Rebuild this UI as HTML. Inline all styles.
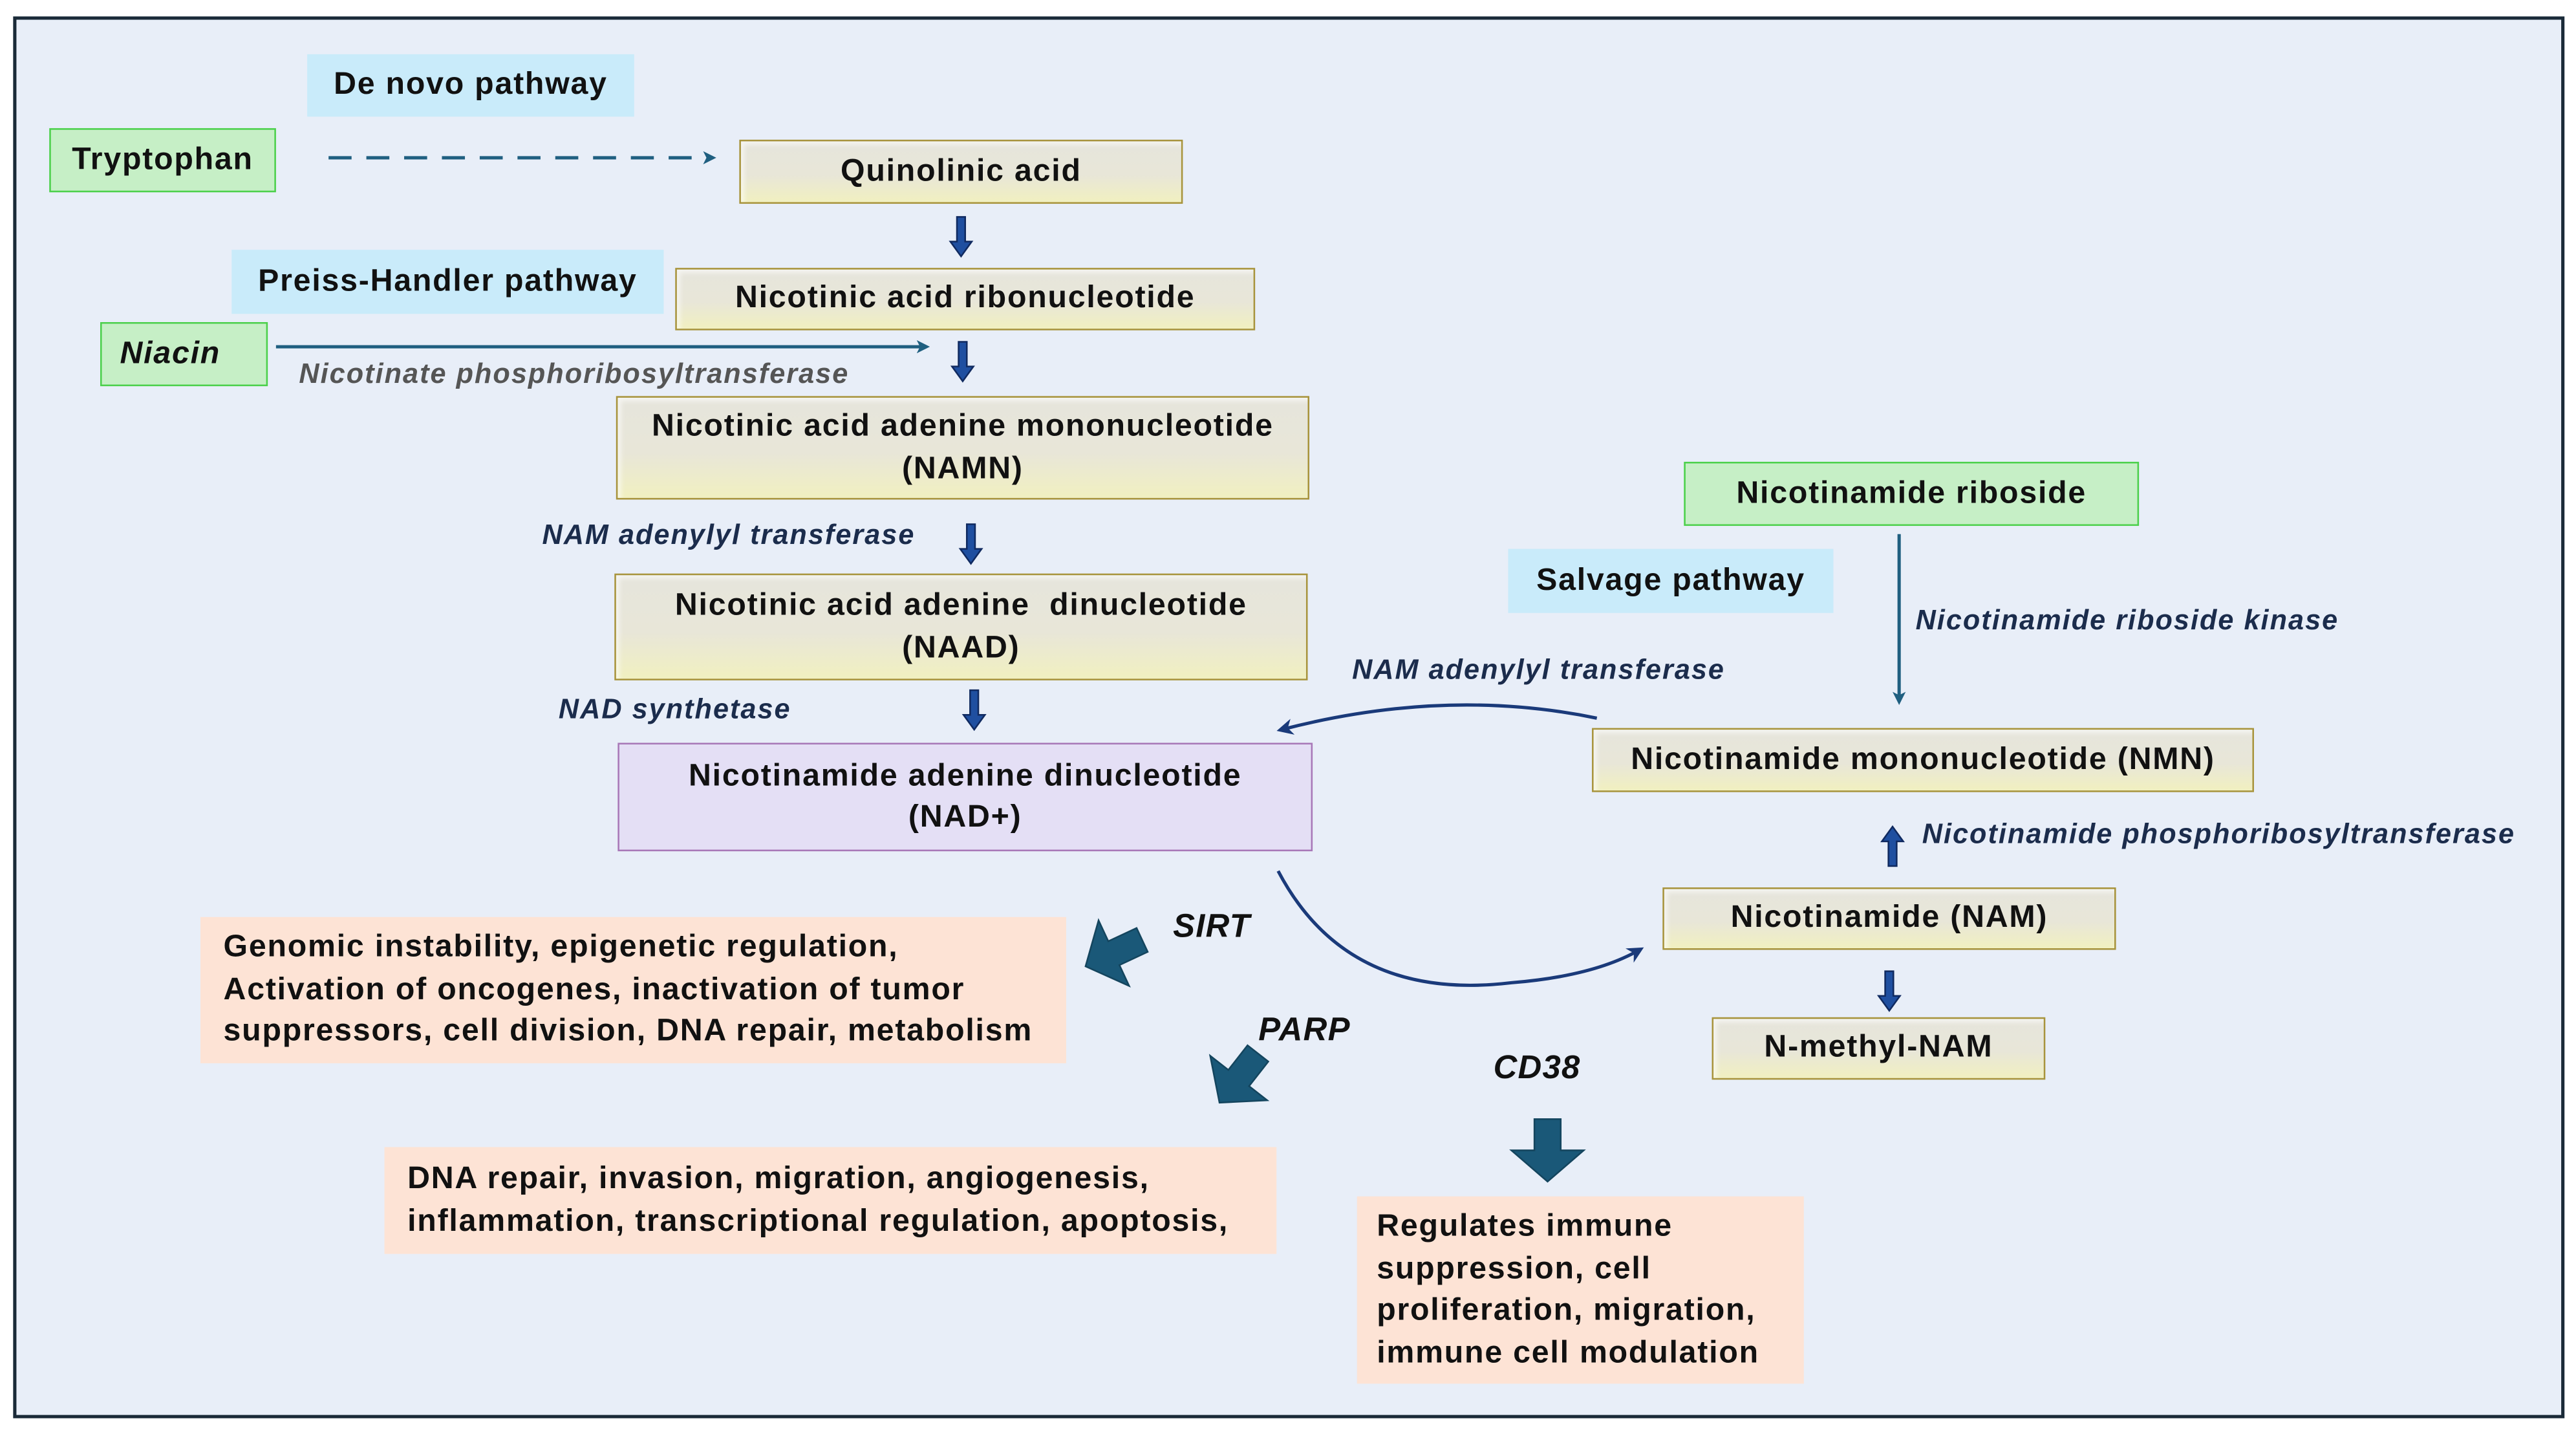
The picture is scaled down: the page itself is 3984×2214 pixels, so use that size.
<!DOCTYPE html>
<html><head><meta charset="utf-8"><style>
html,body{margin:0;padding:0;background:#fff;}
#wrap{width:3984px;height:2214px;overflow:hidden;position:relative;background:#fff;}
#c{position:absolute;left:0;top:0;width:1568px;height:871px;transform:scale(2.5408);transform-origin:0 0;font-family:"Liberation Sans",sans-serif;}
.frame{position:absolute;left:8px;top:10px;width:1549px;height:849px;border:2px solid #1a2a38;background:#e8eef8;}
.b{position:absolute;display:flex;align-items:center;justify-content:center;text-align:center;font-weight:bold;font-size:19px;letter-spacing:0.7px;color:#111;box-sizing:border-box;line-height:25.5px;white-space:nowrap;}
.lab{background:#c9ebfa;}
.grn{background:#c6efc6;border:1.5px solid #4cd04c;}
.y{background:linear-gradient(#e6e5dc 0%,#e8e6d8 55%,#f1f0c0 100%);border:1.5px solid #a8943c;box-shadow:inset 2px 2px 3px rgba(255,255,255,.6);}
.p{background:#e4dff5;border:1.5px solid #a878b8;}
.o{background:#fde3d5;justify-content:flex-start;text-align:left;padding-left:14px;}
.t{position:absolute;font-style:italic;font-weight:bold;font-size:17px;letter-spacing:0.8px;color:#1b2c4c;white-space:nowrap;}
svg{position:absolute;left:0;top:0;}
</style></head><body><div id="wrap"><div id="c">
<div class="frame"></div>
<div class="b lab" style="left:187px;top:33px;width:199px;height:38px;">De novo pathway</div>
<div class="b grn" style="left:30px;top:78px;width:138px;height:39px;">Tryptophan</div>
<div class="b y" style="left:450px;top:85px;width:270px;height:39px;">Quinolinic acid</div>
<div class="b lab" style="left:141px;top:152px;width:263px;height:39px;">Preiss-Handler pathway</div>
<div class="b y" style="left:411px;top:163px;width:353px;height:38px;">Nicotinic acid ribonucleotide</div>
<div class="b grn" style="left:61px;top:196px;width:102px;height:39px;font-style:italic;justify-content:flex-start;padding-left:11px;">Niacin</div>
<div class="t" style="left:182px;top:218px;color:#555;">Nicotinate phosphoribosyltransferase</div>
<div class="b y" style="left:375px;top:241px;width:422px;height:63px;">Nicotinic acid adenine mononucleotide<br>(NAMN)</div>
<div class="t" style="left:330px;top:316px;">NAM adenylyl transferase</div>
<div class="b y" style="left:374px;top:349px;width:422px;height:65px;">Nicotinic acid adenine&nbsp; dinucleotide<br>(NAAD)</div>
<div class="t" style="left:340px;top:422px;">NAD synthetase</div>
<div class="b p" style="left:376px;top:452px;width:423px;height:66px;">Nicotinamide adenine dinucleotide<br>(NAD+)</div>
<div class="b grn" style="left:1025px;top:281px;width:277px;height:39px;">Nicotinamide riboside</div>
<div class="b lab" style="left:918px;top:334px;width:198px;height:39px;">Salvage pathway</div>
<div class="t" style="left:1166px;top:368px;">Nicotinamide riboside kinase</div>
<div class="t" style="left:823px;top:398px;">NAM adenylyl transferase</div>
<div class="b y" style="left:969px;top:443px;width:403px;height:39px;">Nicotinamide mononucleotide (NMN)</div>
<div class="t" style="left:1170px;top:498px;">Nicotinamide phosphoribosyltransferase</div>
<div class="b y" style="left:1012px;top:540px;width:276px;height:38px;">Nicotinamide (NAM)</div>
<div class="b y" style="left:1042px;top:619px;width:203px;height:38px;">N-methyl-NAM</div>
<div class="t" style="left:714px;top:553px;font-size:20px;color:#111;letter-spacing:0.5px;">SIRT</div>
<div class="t" style="left:766px;top:616px;font-size:20px;color:#111;letter-spacing:0.5px;">PARP</div>
<div class="t" style="left:909px;top:639px;font-size:20px;color:#111;letter-spacing:0.5px;">CD38</div>
<div class="b o" style="left:122px;top:558px;width:527px;height:89px;">Genomic instability, epigenetic regulation,<br>Activation of oncogenes, inactivation of tumor<br>suppressors, cell division, DNA repair, metabolism</div>
<div class="b o" style="left:234px;top:698px;width:543px;height:65px;">DNA repair, invasion, migration, angiogenesis,<br>inflammation, transcriptional regulation, apoptosis,</div>
<div class="b o" style="left:826px;top:728px;width:272px;height:114px;padding-left:12px;">Regulates immune<br>suppression, cell<br>proliferation, migration,<br>immune cell modulation</div>
<svg width="1568" height="871" viewBox="0 0 1568 871">
<defs>
<marker id="ah" markerWidth="8" markerHeight="8" refX="6" refY="4" orient="auto" markerUnits="userSpaceOnUse"><path d="M0,0 L8,4 L0,8 L2,4z" fill="#1f5f80"/></marker>
<marker id="ah2" markerWidth="10" markerHeight="10" refX="7" refY="5" orient="auto" markerUnits="userSpaceOnUse"><path d="M0,0 L10,5 L0,10 L3,5z" fill="#1a3a7a"/></marker>
<g id="sa"><path d="M-2.5,-12 L2.5,-12 L2.5,3 L6.5,3 L0,12 L-6.5,3 L-2.5,3z" fill="#1f4fa0" stroke="#102a60" stroke-width="1"/></g>
<g id="fa"><path d="M-8,-19 L8,-19 L8,0 L22,0 L0,19 L-22,0 L-8,0z" fill="#1a5878" stroke="#14455e" stroke-width="1"/></g>
</defs>
<line x1="200" y1="96" x2="434" y2="96" stroke="#1f5f80" stroke-width="2" stroke-dasharray="14,9" marker-end="url(#ah)"/>
<line x1="168" y1="211" x2="564" y2="211" stroke="#1f5f80" stroke-width="2" marker-end="url(#ah)"/>
<line x1="1156" y1="325" x2="1156" y2="427" stroke="#1f5f80" stroke-width="2" marker-end="url(#ah)"/>
<use href="#sa" x="585" y="144"/>
<use href="#sa" x="586" y="220"/>
<use href="#sa" x="591" y="331"/>
<use href="#sa" x="593" y="432"/>
<use href="#sa" x="1150" y="603"/>
<use href="#sa" transform="translate(1152,515) rotate(180)"/>
<path d="M972,437 Q880,418 780,444" fill="none" stroke="#1a3a7a" stroke-width="2" marker-end="url(#ah2)"/>
<path d="M778,530 Q820,610 920,598 Q970,594 998,578" fill="none" stroke="#1a3a7a" stroke-width="2" marker-end="url(#ah2)"/>
<use href="#fa" transform="translate(678,580) rotate(65)"/>
<use href="#fa" transform="translate(754,656) rotate(38)"/>
<use href="#fa" transform="translate(942,700)"/>
</svg>
</div></div></body></html>
